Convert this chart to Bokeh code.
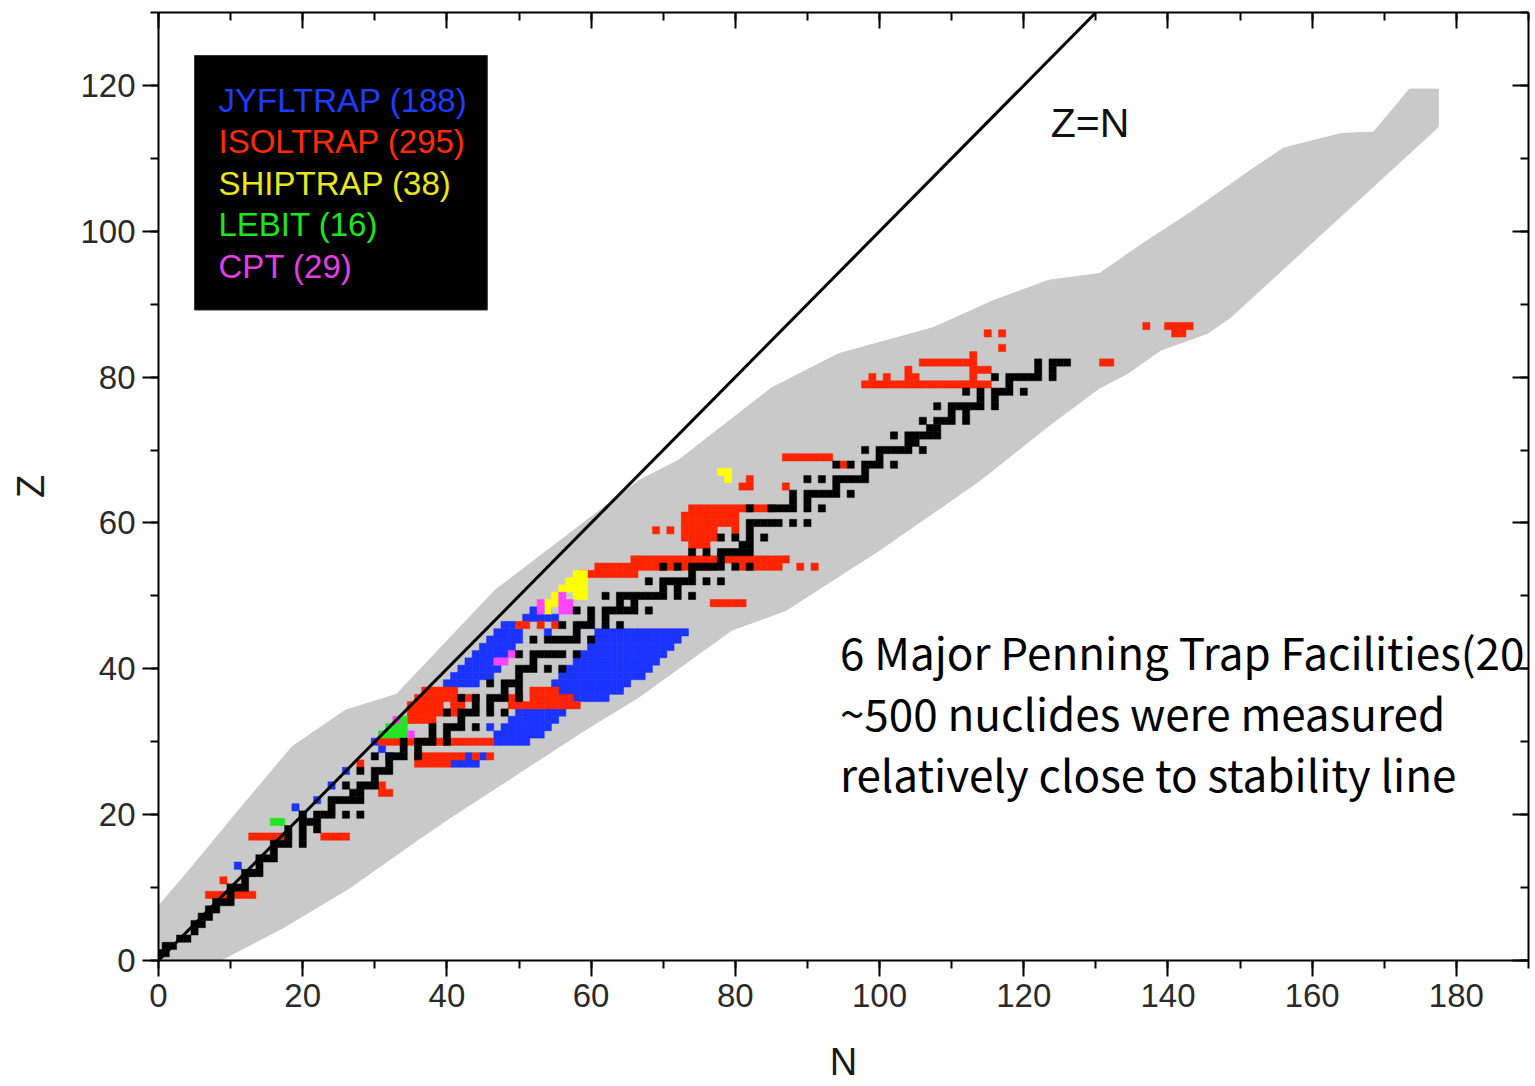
from bokeh.plotting import figure
from bokeh.models import (Range1d, LinearAxis, SingleIntervalTicker, Slope,
                          BoxAnnotation, Label)
from bokeh.embed import file_html
from bokeh.resources import INLINE

# ---------------- data ----------------
# outline of the region of known nuclides (N, Z)
GRAY_EDGE_N = [-0.5, -0.5, 4.6, 10.6, 18.5, 25.9, 33.0, 46.7, 66.6, 72.1, 85.0, 94.3, 107.5,
               115.8, 123.5, 130.5, 136.6, 143.0, 151.5, 156.0, 164.0, 168.5, 173.5,
               177.5, 177.5, 148.7, 145.5, 139.0, 134.4, 130.5, 123.7, 113.9, 99.9,
               87.0, 79.5, 66.6, 59.0, 40.5, 35.9, 26.6, 17.3, 7.6]
GRAY_EDGE_Z = [-0.5, 6.9, 12.8, 20.0, 29.3, 34.3, 36.5, 50.8, 65.8, 68.6, 78.5, 83.2, 86.8,
               90.5, 93.3, 94.2, 98.4, 102.5, 108.4, 111.4, 113.4, 113.6, 119.5,
               119.5, 114.3, 88.2, 86.0, 83.7, 80.5, 78.5, 73.5, 65.8, 56.2,
               48.0, 45.3, 36.1, 31.5, 19.6, 16.5, 10.0, 4.5, -0.5]

# stable nuclides: Z -> list of N
STABLE = {
    1: [0, 1], 2: [1, 2], 3: [3, 4], 4: [5], 5: [5, 6], 6: [6, 7], 7: [7, 8],
    8: [8, 9, 10], 9: [10], 10: [10, 11, 12], 11: [12], 12: [12, 13, 14], 13: [14],
    14: [14, 15, 16], 15: [16], 16: [16, 17, 18, 20], 17: [18, 20], 18: [18, 20, 22],
    19: [20, 21, 22], 20: [20, 22, 23, 24, 26, 28], 21: [24], 22: [24, 25, 26, 27, 28],
    23: [27, 28], 24: [26, 28, 29, 30], 25: [30], 26: [28, 30, 31, 32], 27: [32],
    28: [30, 32, 33, 34, 36], 29: [34, 36], 30: [34, 36, 37, 38, 40], 31: [38, 40],
    32: [38, 40, 41, 42, 44], 33: [42], 34: [40, 42, 43, 44, 46, 48], 35: [44, 46],
    36: [42, 44, 46, 47, 48, 50], 37: [48, 50], 38: [46, 48, 49, 50], 39: [50],
    40: [50, 51, 52, 54, 56], 41: [52], 42: [50, 52, 53, 54, 55, 56, 58],
    44: [52, 54, 55, 56, 57, 58, 60], 45: [58], 46: [56, 58, 59, 60, 62, 64],
    47: [60, 62], 48: [58, 60, 62, 63, 64, 65, 66, 68], 49: [64, 66],
    50: [62, 64, 65, 66, 67, 68, 69, 70, 72, 74], 51: [70, 72],
    52: [68, 70, 71, 72, 73, 74, 76, 78], 53: [74], 54: [70, 72, 74, 75, 76, 77, 78, 80, 82],
    55: [78], 56: [74, 76, 78, 79, 80, 81, 82], 57: [81, 82], 58: [78, 80, 82, 84],
    59: [82], 60: [82, 83, 84, 85, 86, 88, 90], 62: [82, 85, 86, 87, 88, 90, 92],
    63: [88, 90], 64: [88, 90, 91, 92, 93, 94, 96], 65: [94], 66: [90, 92, 94, 95, 96, 97, 98],
    67: [98], 68: [94, 96, 98, 99, 100, 102], 69: [100], 70: [98, 100, 101, 102, 103, 104, 106],
    71: [104, 105], 72: [102, 104, 105, 106, 107, 108], 73: [107, 108],
    74: [106, 108, 109, 110, 112], 75: [110, 112], 76: [108, 110, 111, 112, 113, 114, 116],
    77: [114, 116], 78: [112, 114, 116, 117, 118, 120], 79: [118],
    80: [116, 118, 119, 120, 121, 122, 124], 81: [122, 124], 82: [122, 124, 125, 126],
}

# measured nuclides: (Z, N_first, N_last)
JYFLTRAP = [
    (13, 11, 11), (12, 13, 13), (21, 19, 19), (20, 20, 20), (22, 22, 22), (24, 24, 24),
    (26, 26, 26), (30, 30, 30), (29, 31, 31), (28, 32, 32),
    (28, 43, 43), (28, 45, 45), (27, 41, 44),
    (30, 47, 51), (31, 47, 53), (32, 46, 46), (32, 48, 54), (33, 49, 55), (34, 50, 56),
    (36, 56, 62), (37, 55, 64), (38, 55, 65), (39, 56, 67), (40, 57, 68), (41, 58, 69),
    (42, 59, 70), (43, 60, 71), (44, 60, 72), (45, 61, 73),
    (38, 40, 44), (39, 41, 46), (40, 42, 47), (41, 43, 46), (42, 44, 48), (43, 45, 49),
    (44, 46, 50), (45, 47, 50), (45, 54, 54), (46, 48, 49), (47, 51, 55), (48, 52, 52),
    (48, 54, 54),
]
ISOLTRAP = [
    (9, 7, 13), (10, 10, 10), (11, 9, 9), (17, 13, 18), (17, 23, 26),
    (23, 31, 32), (24, 31, 31), (27, 28, 28),
    (27, 36, 40), (28, 36, 42), (28, 44, 44), (28, 46, 46), (30, 31, 46),
    (33, 35, 38), (34, 35, 41), (35, 35, 39), (35, 41, 42), (35, 49, 58),
    (36, 36, 44), (36, 49, 50), (36, 52, 57), (37, 37, 41), (37, 52, 55),
    (46, 50, 51), (46, 53, 53), (46, 55, 55),
    (49, 77, 81), (53, 59, 66), (54, 61, 77), (54, 81, 86), (54, 89, 89), (54, 91, 91),
    (55, 66, 87), (57, 74, 76), (58, 73, 77), (59, 69, 69), (59, 71, 71), (59, 73, 77),
    (59, 80, 80), (60, 73, 80), (61, 73, 80), (62, 74, 85),
    (65, 81, 82), (65, 87, 87), (66, 82, 82), (68, 95, 95), (69, 87, 93),
    (79, 98, 115), (80, 99, 99), (80, 101, 101), (80, 104, 105), (80, 113, 113),
    (81, 104, 104), (81, 113, 115), (82, 106, 113), (82, 131, 132), (83, 113, 113),
    (84, 117, 117), (86, 115, 115), (86, 117, 117), (86, 141, 142), (87, 137, 137),
    (87, 140, 143),
]
SHIPTRAP = [
    (53, 58, 59), (52, 57, 59), (51, 56, 59), (50, 55, 55), (50, 58, 59), (49, 54, 55),
    (48, 54, 54), (67, 78, 79), (66, 79, 79),
]
LEBIT = [(19, 16, 17), (31, 31, 34), (32, 32, 34), (33, 34, 34)]
CPT = [
    (33, 33, 33), (31, 35, 35), (41, 47, 48), (42, 49, 49), (48, 53, 53), (49, 53, 53),
    (48, 56, 57), (49, 56, 57), (50, 56, 56),
]

FACILITIES = ["JYFLTRAP", "ISOLTRAP", "SHIPTRAP", "LEBIT", "CPT"]
COUNTS = [188, 295, 38, 16, 29]
SEGMENTS = [JYFLTRAP, ISOLTRAP, SHIPTRAP, LEBIT, CPT]
CELL_COLORS = ["#1a33ff", "#ff2400", "#ffff00", "#22e622", "#ff44ff"]
TEXT_COLORS = ["#1e3cff", "#ff2a0a", "#e8e61e", "#1ee61e", "#e040e0"]

NOTE_LINES = ["6 Major Penning Trap Facilities(20",
              "~500 nuclides were measured",
              "relatively close to stability line"]

SANS = "Liberation Sans"

# ---------------- figure ----------------
p = figure(width=1535, height=1086, output_backend="svg", toolbar_location=None,
           x_range=Range1d(0, 190), y_range=Range1d(0, 130),
           min_border_left=158, min_border_right=7, min_border_top=12,
           min_border_bottom=126, background_fill_color="white",
           border_fill_color="white")
p.outline_line_color = None
p.xgrid.visible = False
p.ygrid.visible = False

def style_axis(ax, labelled, inward):
    ax.ticker = SingleIntervalTicker(interval=20, num_minor_ticks=2)
    ax.axis_line_width = 2
    ax.axis_line_color = "black"
    ax.major_tick_line_width = 2
    ax.minor_tick_line_width = 2
    ax.major_tick_line_color = "black"
    ax.minor_tick_line_color = "black"
    if inward:
        ax.major_tick_in, ax.major_tick_out = 16, 0
        ax.minor_tick_in, ax.minor_tick_out = 8, 0
    else:
        ax.major_tick_in, ax.major_tick_out = 0, 16
        ax.minor_tick_in, ax.minor_tick_out = 0, 8
    if labelled:
        ax.major_label_text_font = SANS
        ax.major_label_text_font_size = "33px"
        ax.major_label_text_color = "#2a2a2a"
        ax.major_label_standoff = 7
        ax.axis_label_text_font = SANS
        ax.axis_label_text_font_size = "38px"
        ax.axis_label_text_font_style = "normal"
        ax.axis_label_text_color = "#1a1a1a"
    else:
        ax.major_label_overrides = {v: "" for v in range(0, 200, 20)}
        ax.major_label_text_font_size = "1px"
        ax.major_label_standoff = 0

xa = p.below[0]
ya = p.left[0]
style_axis(xa, True, False)
style_axis(ya, True, False)
xa.axis_label = "N"
ya.axis_label = "Z"
xa.axis_label_standoff = 31
ya.axis_label_standoff = 25

top = LinearAxis()
right = LinearAxis()
style_axis(top, False, True)
style_axis(right, False, True)
p.add_layout(top, "above")
p.add_layout(right, "right")

# known-nuclide region
p.patch(GRAY_EDGE_N, GRAY_EDGE_Z, fill_color="#c9c9c9", line_color="#c9c9c9", line_width=1)

def cells(segs):
    xs, ys = [], []
    for z, a, b in segs:
        for n in range(a, b + 1):
            xs.append(n)
            ys.append(z)
    return xs, ys

for segs, col in zip(SEGMENTS, CELL_COLORS):
    xs, ys = cells(segs)
    p.rect(xs, ys, width=1, height=1, fill_color=col, line_color=col, line_width=0.5)

sx, sy = [], []
for z, ns in STABLE.items():
    for n in ns:
        sx.append(n)
        sy.append(z)
p.rect(sx, sy, width=1, height=1, fill_color="black", line_color="black", line_width=0.5)

# Z = N line
p.add_layout(Slope(gradient=1, y_intercept=0, line_color="black", line_width=3))
p.add_layout(Label(x=123.75, y=114.9, text="Z=N", text_font=SANS, text_font_size="41px",
                   text_color="#111111", text_baseline="alphabetic"))

# legend box
p.add_layout(BoxAnnotation(left=5.0, right=45.6, top=124.1, bottom=89.2,
                           fill_color="black", fill_alpha=1.0, line_color="#333333",
                           line_alpha=1.0, level="overlay"))
for i, (name, cnt, col) in enumerate(zip(FACILITIES, COUNTS, TEXT_COLORS)):
    p.add_layout(Label(x=8.32, y=118.0 - i * 5.71, text=f"{name} ({cnt})", text_font=SANS,
                       text_font_size="33px", text_color=col, text_baseline="alphabetic",
                       level="overlay"))

# note
for i, line in enumerate(NOTE_LINES):
    p.add_layout(Label(x=94.5, y=42.4 - i * 8.37, text=line, text_font="Noto Sans CJK JP",
                       text_font_size="44px", text_color="black", text_baseline="alphabetic",
                       level="overlay"))

open("out.html", "w").write(file_html(p, INLINE))
